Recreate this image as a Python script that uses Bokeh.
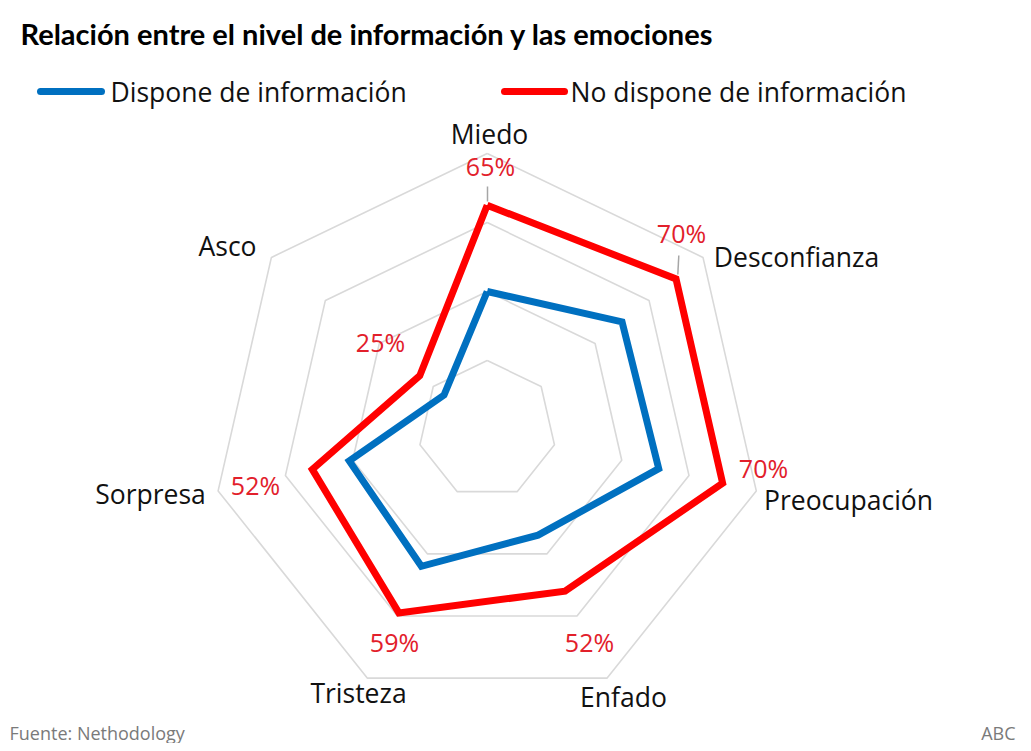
import math
from bokeh.plotting import figure
from bokeh.models import Range1d
from bokeh.core.properties import value
from bokeh.embed import file_html
from bokeh.resources import INLINE

# ---------------- data ----------------
categories = ["Miedo", "Desconfianza", "Preocupación", "Enfado", "Tristeza", "Sorpresa", "Asco"]
dispone = [40, 50, 51, 34, 44, 41, 16]          # Dispone de información
no_dispone = [65, 70, 70, 52, 59, 52, 25]       # No dispone de información
ring_levels = [20, 40, 60, 80]
series_names = ["Dispone de información", "No dispone de información"]
title_text = "Relación entre el nivel de información y las emociones"
source_text = "Fuente: Nethodology"
brand_text = "ABC"

# ---------------- layout helpers ----------------
W, H = 1023, 743
PX = 3.45            # pixels per percentage point
CX, CY = 486.7, 429  # pixel position of the radar centre
FONT = "Open Sans"
BLUE = "#0070C0"
RED = "#FF0000"
PCT_RED = "#E2202B"
GRID = "#D9D9D9"


def sx(px):  # pixel x -> data x
    return (px - CX) / PX


def sy(py):  # pixel y -> data y
    return (CY - py) / PX


n = len(categories)
angles = [math.pi / 2 - k * 2 * math.pi / n for k in range(n)]


def polar(vals):
    xs = [v * math.cos(a) for v, a in zip(vals, angles)]
    ys = [v * math.sin(a) for v, a in zip(vals, angles)]
    return xs + xs[:1], ys + ys[:1]


p = figure(width=W, height=H, output_backend="svg", toolbar_location=None,
           x_range=Range1d(sx(0), sx(W)), y_range=Range1d(sy(H), sy(0)),
           x_axis_type=None, y_axis_type=None, min_border=0,
           outline_line_color=None, background_fill_color="white")
p.grid.visible = False

# grid rings
ring_xs, ring_ys = [], []
for lv in ring_levels:
    xs, ys = polar([lv] * n)
    ring_xs.append(xs)
    ring_ys.append(ys)
p.multi_line(ring_xs, ring_ys, line_color=GRID, line_width=1.6)

# series
bx, by = polar(dispone)
rx, ry = polar(no_dispone)
p.line(bx, by, line_color=BLUE, line_width=7, line_join="miter")
p.line(rx, ry, line_color=RED, line_width=7, line_join="miter")

# leader lines for the two top labels
p.segment(x0=[sx(487), sx(678.3)], y0=[sy(186), sy(255)],
          x1=[sx(487), sx(677.3)], y1=[sy(201), sy(274)],
          line_color="#A6A6A6", line_width=1.5)

# category labels (pixel centres)
cat_pos = [(489, 133), (796, 256), (848, 499), (623, 696), (358, 692), (150, 493), (227, 245)]
p.text(x=[sx(a) for a, b in cat_pos], y=[sy(b) for a, b in cat_pos], text=categories,
       text_font=value(FONT), text_font_size="26.5px", text_color="#111111",
       text_align="center", text_baseline="middle")

# value labels of the red series
pct_pos = [(490, 165), (681, 232), (763, 467), (589, 641), (394, 641), (255, 484), (380, 341)]
p.text(x=[sx(a) for a, b in pct_pos], y=[sy(b) for a, b in pct_pos],
       text=[f"{v}%" for v in no_dispone],
       text_font=value(FONT), text_font_size="25px", text_color=PCT_RED,
       text_align="center", text_baseline="middle")

# title
p.text(x=[sx(20)], y=[sy(33)], text=[title_text], text_font=value("Lato"),
       text_font_size="29px", text_font_style="bold", text_color="#000000",
       text_align="left", text_baseline="middle")

# legend
p.line([sx(40), sx(101)], [sy(91), sy(91)], line_color=BLUE, line_width=7, line_cap="round")
p.line([sx(504), sx(564)], [sy(91), sy(91)], line_color=RED, line_width=7, line_cap="round")
p.text(x=[sx(110), sx(570)], y=[sy(91), sy(91)], text=series_names,
       text_font=value(FONT), text_font_size="26.5px", text_color="#111111",
       text_align="left", text_baseline="middle")

# footer
p.text(x=[sx(9)], y=[sy(732)], text=[source_text], text_font=value(FONT),
       text_font_size="18px", text_color="#7A7A7A", text_align="left", text_baseline="middle")
p.text(x=[sx(1015)], y=[sy(732)], text=[brand_text], text_font=value(FONT),
       text_font_size="18px", text_color="#7A7A7A", text_align="right", text_baseline="middle")

open("out.html", "w").write(file_html(p, INLINE))
